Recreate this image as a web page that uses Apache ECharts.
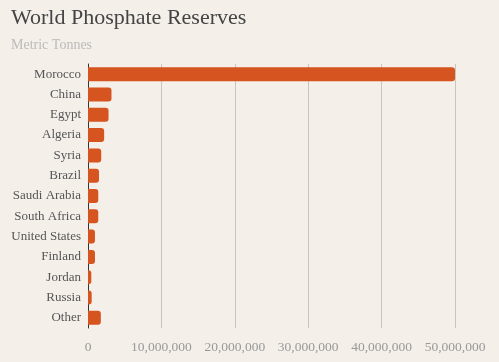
<!DOCTYPE html>
<html><head><meta charset="utf-8">
<script src="https://cdn.jsdelivr.net/npm/echarts@6/dist/echarts.min.js"></script>
<style>html,body{margin:0;padding:0;background:#f4efe9;}#c{width:499px;height:362px;}</style>
</head><body><div id="c"></div>
<script>
const categories = ["Morocco","China","Egypt","Algeria","Syria","Brazil","Saudi Arabia","South Africa","United States","Finland","Jordan","Russia","Other"];
const reserves = [50000000,3200000,2800000,2200000,1800000,1500000,1400000,1400000,950000,950000,450000,500000,1750000];
const xTicks = [0,10000000,20000000,30000000,40000000,50000000];

const font = "'Liberation Serif', Georgia, serif";
const chart = echarts.init(document.getElementById('c'));
chart.setOption({
  backgroundColor: '#f4efe9',
  animation: false,
  title: {
    text: 'World Phosphate Reserves',
    subtext: 'Metric Tonnes',
    left: 6, top: 2, itemGap: 9,
    textStyle: {fontFamily: font, fontSize: 22, fontWeight: 'normal', color: '#444'},
    subtextStyle: {fontFamily: font, fontSize: 14, color: '#bbb'}
  },
  grid: {left: 88, right: 44, top: 64, bottom: 34, containLabel: false},
  xAxis: {
    type: 'value', min: xTicks[0], max: xTicks[xTicks.length - 1], interval: 10000000,
    axisLine: {show: false}, axisTick: {show: false},
    splitLine: {show: true, lineStyle: {color: '#c8c4be', width: 1}},
    axisLabel: {fontFamily: font, fontSize: 13.5, color: '#999', margin: 12,
      formatter: v => v.toLocaleString('en-US')}
  },
  yAxis: {
    type: 'category', data: categories, inverse: true,
    axisLine: {show: true, lineStyle: {color: '#333', width: 1}},
    axisTick: {show: false},
    axisLabel: {fontFamily: font, fontSize: 13, color: '#555', margin: 7}
  },
  series: [{
    type: 'bar', data: reserves, barWidth: 14,
    itemStyle: {color: '#d5541f', borderRadius: [0,3,3,0]}
  }]
});
</script></body></html>
